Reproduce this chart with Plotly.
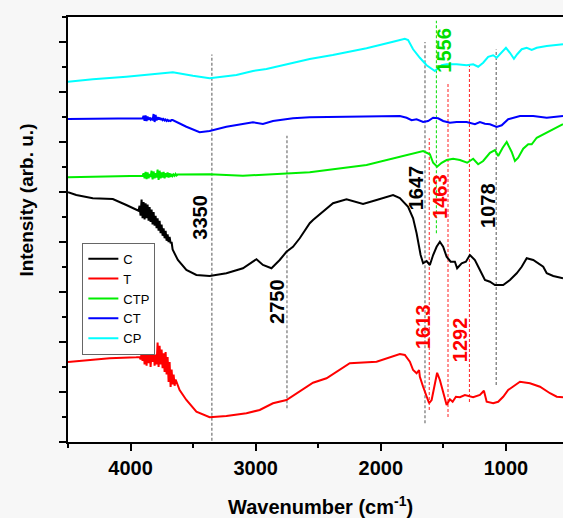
import plotly.graph_objects as go

# ---------------- data (wavenumber in cm-1, intensity in arb. units) ----------------
series_names = ["C", "T", "CTP", "CT", "CP"]

# C (black)
c_wn = [4500, 4434, 4302, 4194, 4142, 4034, 3954, 3622, 3554, 3474, 3368, 3234, 3102, 2994, 2942,
        2874, 2808, 2754, 2702, 2648, 2568, 2542, 2382, 2274, 2142, 2034, 1902, 1848, 1782, 1742,
        1714, 1682, 1662, 1634, 1608, 1582, 1554, 1528, 1502, 1474, 1442, 1408, 1390, 1354, 1320,
        1288, 1248, 1208, 1168, 1128, 1088, 1022, 968, 914, 874, 834, 782, 702, 674, 622, 544]
c_val = [9.99, 9.88, 9.75, 9.71, 9.72, 9.48, 9.28, 7.28, 6.88, 6.68, 6.64, 6.75, 6.95, 7.31, 7.08,
         6.95, 7.28, 7.61, 7.81, 8.15, 8.75, 8.88, 9.55, 9.71, 9.52, 9.68, 9.88, 9.76, 9.41, 8.95,
         8.35, 7.48, 7.15, 7.24, 7.08, 7.48, 7.81, 8.01, 7.81, 7.41, 7.21, 7.21, 6.95, 7.15, 7.21,
         7.48, 7.28, 6.88, 6.48, 6.41, 6.28, 6.28, 6.48, 6.75, 7.01, 7.35, 7.28, 7.01, 6.75, 6.64, 6.55]
c_noise_wn = [3936, 3928, 3920, 3912, 3904, 3896, 3888, 3880, 3872, 3864, 3856, 3848, 3840, 3832,
              3824, 3816, 3808, 3800, 3792, 3784, 3776, 3768, 3760, 3752, 3744, 3736, 3728, 3720,
              3712, 3704, 3696, 3688, 3680, 3672, 3664]
c_noise_val = [9.25, 9.45, 9.05, 9.70, 8.95, 9.60, 8.90, 9.55, 8.95, 9.50, 8.85, 9.40, 8.80, 9.30,
               8.70, 9.20, 8.65, 9.05, 8.55, 8.95, 8.45, 8.85, 8.35, 8.70, 8.25, 8.55, 8.15, 8.45,
               8.05, 8.30, 8.00, 8.20, 7.95, 8.00, 7.70]

# T (red)
t_wn = [4500, 4408, 4168, 3954, 3608, 3554, 3474, 3368, 3234, 3074, 2968, 2862, 2754, 2648, 2542,
        2434, 2354, 2248, 2034, 1928, 1848, 1808, 1768, 1742, 1714, 1694, 1688, 1662, 1634, 1614,
        1594, 1568, 1550, 1528, 1502, 1474, 1448, 1426, 1400, 1368, 1328, 1262, 1208, 1176, 1154,
        1102, 1062, 1022, 982, 942, 888, 808, 728, 648, 594, 544]
t_val = [3.20, 3.24, 3.35, 3.39, 2.08, 1.68, 1.21, 0.99, 1.04, 1.15, 1.28, 1.55, 1.68, 2.04, 2.37,
         2.55, 2.81, 3.15, 3.21, 3.39, 3.52, 3.48, 3.21, 2.88, 2.75, 2.88, 2.61, 2.21, 1.81, 1.55,
         1.68, 2.41, 2.77, 2.48, 1.95, 1.48, 1.71, 1.61, 1.81, 1.79, 1.88, 1.79, 1.88, 2.05, 1.61,
         1.55, 1.61, 1.81, 2.08, 2.21, 2.41, 2.35, 2.21, 1.95, 1.81, 1.79]
t_noise_wn = [3928, 3920, 3912, 3904, 3896, 3888, 3880, 3872, 3864, 3856, 3848, 3840, 3832, 3824,
              3816, 3808, 3800, 3792, 3784, 3776, 3768, 3760, 3752, 3744, 3736, 3728, 3720, 3712,
              3704, 3696, 3688, 3680, 3672, 3664, 3656, 3648, 3640]
t_noise_val = [3.40, 3.30, 3.52, 3.25, 3.70, 3.10, 4.10, 3.05, 3.95, 3.15, 3.80, 3.00, 3.60, 3.20,
               3.90, 3.05, 3.50, 3.10, 3.98, 3.00, 3.85, 3.10, 3.70, 2.95, 3.55, 2.80, 3.60, 2.70,
               3.40, 2.40, 3.20, 2.20, 2.90, 2.30, 2.70, 2.25, 2.50]

# CTP (green)
ctp_wn = [4500, 4302, 3960, 3502, 3368, 3102, 2754, 2568, 2114, 1848, 1742, 1662, 1608, 1582, 1550,
          1514, 1474, 1422, 1368, 1310, 1262, 1222, 1182, 1128, 1088, 1062, 1026, 994, 954, 928,
          902, 862, 822, 794, 754, 702, 648, 594, 544]
ctp_val = [10.59, 10.61, 10.64, 10.71, 10.71, 10.65, 10.75, 10.79, 11.08, 11.41, 11.57, 11.64, 11.51,
           11.17, 11.01, 11.17, 11.28, 11.33, 11.28, 11.17, 11.33, 11.11, 11.24, 11.57, 11.68, 11.44,
           11.77, 12.00, 11.60, 11.24, 11.37, 11.73, 11.91, 11.91, 12.17, 12.31, 12.44, 12.57, 12.71]
ctp_noise_wn = [3904, 3896, 3888, 3880, 3872, 3864, 3856, 3848, 3840, 3832, 3824, 3816, 3808, 3800,
                3792, 3784, 3776, 3768, 3760, 3752, 3744, 3736, 3728, 3720, 3712, 3704, 3696, 3688,
                3680, 3672, 3664, 3656, 3648, 3640, 3632, 3624]
ctp_noise_val = [10.65, 10.75, 10.55, 10.80, 10.52, 10.78, 10.55, 10.72, 10.60, 10.85, 10.50, 10.82,
                 10.55, 10.75, 10.58, 10.90, 10.48, 10.85, 10.55, 10.78, 10.58, 10.80, 10.55, 10.75,
                 10.60, 10.78, 10.58, 10.75, 10.60, 10.72, 10.64, 10.70, 10.65, 10.72, 10.66, 10.70]

# CT (blue)
ct_wn = [4500, 4302, 3960, 3664, 3554, 3448, 3368, 3234, 3022, 2942, 2862, 2702, 2568, 1848, 1794,
         1754, 1714, 1662, 1622, 1582, 1542, 1502, 1448, 1394, 1314, 1248, 1208, 1168, 1128, 1074,
         1034, 982, 888, 782, 674, 544]
ct_val = [12.92, 12.92, 12.94, 12.88, 12.61, 12.39, 12.44, 12.61, 12.79, 12.72, 12.84, 12.95, 12.99,
          13.04, 12.97, 12.87, 12.91, 12.80, 12.84, 12.97, 12.95, 12.84, 12.77, 12.80, 12.80, 12.71,
          12.80, 12.73, 12.71, 12.60, 12.67, 12.91, 13.04, 13.04, 12.97, 13.04]
ct_noise_wn = [3904, 3896, 3888, 3880, 3872, 3864, 3856, 3848, 3840, 3832, 3824, 3816, 3808, 3800,
               3792, 3784, 3776, 3768, 3760, 3752, 3744, 3736, 3728, 3720, 3712, 3704, 3696, 3688,
               3680, 3672]
ct_noise_val = [12.95, 13.05, 12.85, 13.06, 12.84, 13.02, 12.88, 12.98, 12.90, 12.96, 12.86, 13.12,
                12.80, 13.08, 12.86, 13.00, 12.90, 12.98, 12.88, 12.95, 12.88, 12.92, 12.86, 12.90,
                12.84, 12.88, 12.84, 12.86, 12.84, 12.88]

# CP (cyan)
cp_wn = [4500, 4302, 4034, 3822, 3662, 3502, 3368, 3154, 3022, 2914, 2754, 2568, 2384, 2114, 1902,
         1808, 1782, 1742, 1688, 1634, 1568, 1542, 1514, 1474, 1394, 1314, 1262, 1222, 1182, 1142,
         1102, 1074, 1048, 1000, 968, 936, 910, 874, 834, 794, 754, 674, 544]
cp_val = [14.41, 14.51, 14.61, 14.72, 14.79, 14.65, 14.55, 14.68, 14.84, 14.92, 15.11, 15.32, 15.48,
          15.75, 16.01, 16.13, 16.08, 15.71, 15.37, 15.07, 14.84, 14.97, 15.07, 15.11, 15.11, 15.07,
          15.11, 15.01, 15.17, 15.41, 15.47, 15.37, 15.51, 15.77, 15.57, 15.33, 15.51, 15.71, 15.77,
          15.68, 15.77, 15.84, 15.91]

# peak marker lines
peak_wn = [3350, 2750, 1647, 1556, 1613, 1463, 1292, 1078]
peak_top = [15.50, 12.25, 16.00, 16.85, 12.15, 14.40, 15.10, 15.70]
peak_bottom = [0.05, 1.35, 0.75, 8.35, 1.28, 1.00, 1.60, 2.28]
peak_group = ["C", "C", "C", "CTP", "T", "T", "T", "C"]

# peak labels
label_text = ["3350", "2750", "1647", "1556", "1463", "1078", "1613", "1292"]
label_wn = [3448, 2828, 1722, 1492, 1522, 1148, 1668, 1366]
label_val = [9.00, 5.61, 10.17, 15.67, 9.83, 9.46, 4.61, 4.08]
label_group = ["C", "C", "C", "CTP", "T", "C", "T", "T"]

x_ticks = [4000, 3000, 2000, 1000]
x_minor = [4500, 3500, 2500, 1500, 500]

# ---------------- styling ----------------
FONT = "Arial, 'Liberation Sans', Helvetica, sans-serif"
line_colors = {"C": "#000000", "T": "#ff0000", "CTP": "#00ee00", "CT": "#0000ff", "CP": "#00ffff"}
marker_colors = {"C": "#555555", "T": "#ff2020", "CTP": "#00dd00"}
label_colors = {"C": "#000000", "T": "#ff0000", "CTP": "#00dd00"}


def merged(wn, val, nwn=None, nval=None):
    pts = list(zip(wn, val))
    if nwn is not None:
        pts += list(zip(nwn, nval))
    pts.sort(key=lambda p: -p[0])
    return [p[0] for p in pts], [p[1] for p in pts]


data = {
    "C": merged(c_wn, c_val, c_noise_wn, c_noise_val),
    "T": merged(t_wn, t_val, t_noise_wn, t_noise_val),
    "CTP": merged(ctp_wn, ctp_val, ctp_noise_wn, ctp_noise_val),
    "CT": merged(ct_wn, ct_val, ct_noise_wn, ct_noise_val),
    "CP": merged(cp_wn, cp_val),
}

fig = go.Figure()

# dashed peak markers (drawn first, under the curves)
for w, top, bot, g in zip(peak_wn, peak_top, peak_bottom, peak_group):
    fig.add_trace(go.Scatter(x=[w, w], y=[bot, top], mode="lines", showlegend=False,
                             hoverinfo="skip",
                             line=dict(color=marker_colors[g], width=1, dash="3px,2px")))

for name in series_names:
    x, y = data[name]
    fig.add_trace(go.Scatter(x=x, y=y, mode="lines", name=name,
                             line=dict(color=line_colors[name], width=2)))

for t, w, v, g in zip(label_text, label_wn, label_val, label_group):
    fig.add_annotation(x=w, y=v, xref="x", yref="y", text=t, showarrow=False, textangle=-90,
                       xanchor="center", yanchor="middle",
                       font=dict(family=FONT, size=20, color=label_colors[g], weight="bold"))

# axis titles as annotations for precise placement
fig.add_annotation(xref="paper", yref="paper", x=0.51, y=-0.150, text="Wavenumber (cm<sup>-1</sup>)",
                   showarrow=False, xanchor="center", yanchor="middle",
                   font=dict(family=FONT, size=20, color="black", weight="bold"))
fig.add_annotation(xref="paper", yref="paper", x=-0.084, y=0.569, text="Intensity (arb. u.)",
                   showarrow=False, textangle=-90, xanchor="center", yanchor="middle",
                   font=dict(family=FONT, size=19, color="black", weight="bold"))

fig.update_xaxes(range=[4500, 544], tickvals=x_ticks, ticks="outside", ticklen=7, tickwidth=2,
                 tickcolor="black", showline=True, linewidth=2, linecolor="black", mirror=True,
                 showgrid=False, zeroline=False,
                 tickfont=dict(family=FONT, size=20, color="black", weight="bold"),
                 minor=dict(tickvals=x_minor, ticks="outside", ticklen=4, tickwidth=1.5,
                            tickcolor="black", showgrid=False))
fig.update_yaxes(range=[0, 17], tick0=0, dtick=2, ticks="outside", ticklen=7, tickwidth=2,
                 tickcolor="black", showline=True, linewidth=2, linecolor="black",
                 showticklabels=False, showgrid=False, zeroline=False,
                 minor=dict(tick0=1, dtick=2, ticks="outside", ticklen=4, tickwidth=1.5,
                            tickcolor="black", showgrid=False))

fig.update_layout(
    width=563, height=518,
    margin=dict(l=68, r=0, t=17, b=76),
    paper_bgcolor="#f7f7f7", plot_bgcolor="white",
    font=dict(family=FONT, color="black"),
    showlegend=True,
    legend=dict(x=0.029, y=0.469, xanchor="left", yanchor="top", bgcolor="white",
                bordercolor="#666666", borderwidth=1, font=dict(family=FONT, size=13, color="black"),
                tracegroupgap=0, itemwidth=30),
)

# remove the default page margin so the figure fills the window exactly; hide the modebar
fig.write_html("out.html", config={"displayModeBar": False},
               post_script="document.body.style.margin='0px';")
